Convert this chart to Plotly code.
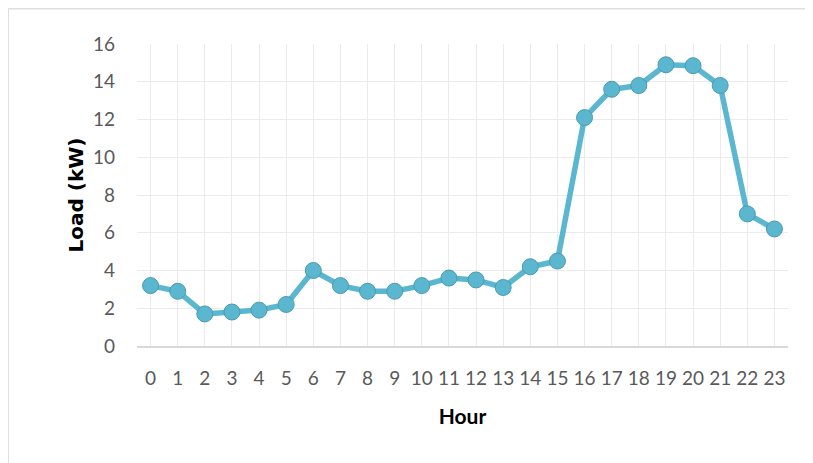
import plotly.graph_objects as go

hours = list(range(24))
hour_labels = [str(h) for h in hours]
load_kw = [3.2, 2.9, 1.7, 1.8, 1.9, 2.2, 4.0, 3.2, 2.9, 2.9, 3.2, 3.6,
           3.5, 3.1, 4.2, 4.5, 12.1, 13.6, 13.8, 14.9, 14.85, 13.8, 7.0, 6.2]
y_ticks = [0, 2, 4, 6, 8, 10, 12, 14, 16]

W, H = 813, 463
L, R, T, B = 129, 33, 36, 125
pw, ph = W - L - R, H - T - B

def px_to_paper_x(px):
    return (px - L) / pw

def px_to_paper_y(py):
    return (H - B - py) / ph

fig = go.Figure()
fig.add_trace(go.Scatter(
    x=hours, y=load_kw, mode="lines+markers",
    line=dict(color="#5ab7cf", width=5.5),
    marker=dict(size=16, color="#5ab7cf", line=dict(color="#4a9bb0", width=1)),
    showlegend=False,
))

font_main = "Lato, 'Open Sans', sans-serif"
fig.update_layout(
    width=W, height=H,
    margin=dict(l=L, r=R, t=T, b=B),
    paper_bgcolor="white", plot_bgcolor="white",
    xaxis=dict(
        tickmode="array", tickvals=hours, ticktext=hour_labels,
        range=[-0.5, 23.5], showgrid=True, gridcolor="#ebebeb", gridwidth=1,
        tickson="boundaries", ticks="", showline=True, linecolor="#d9d9d9",
        linewidth=1.5, zeroline=False, ticklabelstandoff=14,
        tickfont=dict(family=font_main, size=19, color="#595959"),
        title=dict(text="<b>Hour</b>", font=dict(family=font_main, size=21, color="black"),
                   standoff=22),
    ),
    yaxis=dict(
        range=[0, 16], tickvals=y_ticks, showgrid=True, gridcolor="#ebebeb",
        gridwidth=1, zeroline=False, showline=False, ticks="",
        tickfont=dict(family=font_main, size=19, color="#595959"),
        ticklabelstandoff=21,
        title=dict(text="<b>Load (kW)</b>", font=dict(family="DejaVu Sans", size=20, color="black"),
                   standoff=3),
    ),
    shapes=[dict(
        type="rect", xref="paper", yref="paper",
        x0=px_to_paper_x(0), x1=px_to_paper_x(W + 20),
        y0=px_to_paper_y(H + 20), y1=px_to_paper_y(0.5),
        line=dict(color="#dedede", width=2), fillcolor="rgba(0,0,0,0)", layer="below",
    )],
)

fig.write_html("out.html")
